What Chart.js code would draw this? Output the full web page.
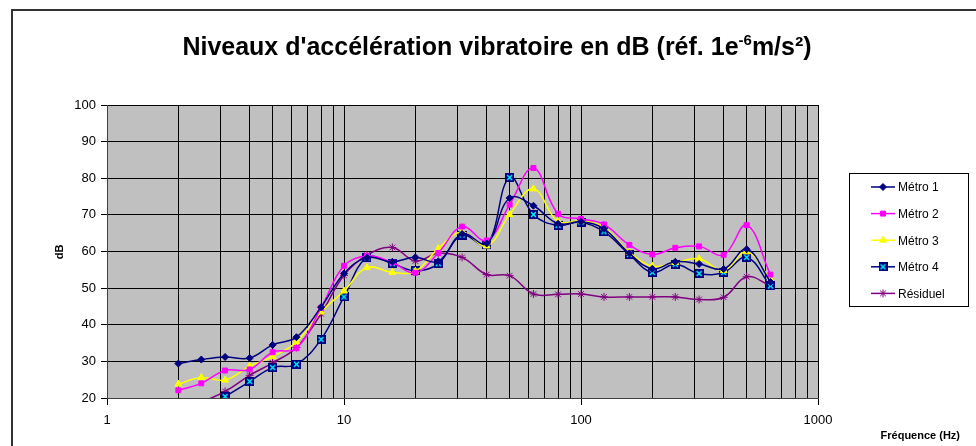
<!DOCTYPE html>
<html>
<head>
<meta charset="utf-8">
<script src="https://cdn.jsdelivr.net/npm/chart.js@4/dist/chart.umd.min.js"></script>
<style>
  html, body { margin: 0; padding: 0; background: #fff; }
  #wrap { width: 976px; height: 446px; position: relative; }
</style>
</head>
<body>
<div id="wrap"><canvas id="vibChart" width="976" height="446"></canvas></div>
<script>
// third-octave bands (Hz)
const freqs = [2, 2.5, 3.15, 4, 5, 6.3, 8, 10, 12.5, 16, 20, 25, 31.5, 40, 50, 63, 80, 100, 125, 160, 200, 250, 315, 400, 500, 630];

const metro1 = [29.4, 30.5, 31.2, 30.9, 34.5, 36.6, 44.8, 54.0, 58.3, 57.2, 58.4, 57.3, 64.8, 62.2, 74.6, 72.5, 67.6, 68.1, 66.2, 59.5, 55.3, 57.2, 56.6, 55.2, 60.6, 51.7];
const metro2 = [22.1, 24.0, 27.5, 27.8, 32.5, 33.6, 44.6, 56.1, 58.8, 57.0, 54.2, 59.6, 66.8, 63.0, 72.8, 82.8, 70.3, 68.9, 67.4, 61.8, 59.2, 61.0, 61.4, 59.1, 67.2, 53.7];
const metro3 = [23.8, 25.6, 24.9, 28.7, 31.3, 35.3, 43.5, 49.2, 55.6, 54.3, 54.6, 60.8, 65.3, 61.5, 70.1, 77.1, 68.2, 68.3, 66.6, 59.8, 56.0, 57.0, 58.0, 54.8, 59.9, 52.5];
const metro4 = [null, null, 20.4, 24.5, 28.3, 29.2, 36.0, 47.6, 58.3, 56.7, 54.7, 56.7, 64.5, 61.8, 80.2, 70.1, 67.1, 68.0, 65.4, 59.2, 54.3, 56.5, 54.0, 54.3, 58.4, 50.6];
const residuel = [17.0, 18.9, 21.8, 26.2, 29.6, 33.8, 43.0, 53.5, 59.0, 61.1, 57.4, 59.5, 58.4, 53.7, 53.4, 48.4, 48.3, 48.4, 47.6, 47.6, 47.6, 47.6, 46.9, 47.5, 53.1, 50.6];

const seriesNames = ['Métro 1', 'Métro 2', 'Métro 3', 'Métro 4', 'Résiduel'];
const xGridTicks = [1, 2, 3, 4, 5, 6, 7, 8, 9, 10, 20, 30, 40, 50, 60, 70, 80, 90, 100, 200, 300, 400, 500, 600, 700, 800, 900, 1000];
const xLabels = [1, 10, 100, 1000];

const FONT = "'Liberation Sans', Arial, sans-serif";

// navy square with a cyan cross, the Métro 4 marker
function makeBoxX() {
  const c = document.createElement('canvas');
  c.width = 9; c.height = 9;
  const g = c.getContext('2d');
  g.fillStyle = '#000080';
  g.fillRect(0, 0, 9, 9);
  g.strokeStyle = '#00ffff';
  g.lineWidth = 1.3;
  g.beginPath();
  g.moveTo(2, 2); g.lineTo(7, 7);
  g.moveTo(7, 2); g.lineTo(2, 7);
  g.stroke();
  return c;
}
const boxX = makeBoxX();

function pts(arr) {
  return freqs.map((f, i) => ({ x: f, y: arr[i] }));
}

const styles = [
  { color: '#000080', fill: '#000080', pointStyle: 'rectRot', radius: 3.5 },
  { color: '#ff00ff', fill: '#ff00ff', pointStyle: 'rect', radius: 3.5 },
  { color: '#ffff00', fill: '#ffff00', pointStyle: 'triangle', radius: 4 },
  { color: '#000080', fill: '#000080', pointStyle: boxX, radius: 4.5 },
  { color: '#800080', fill: '#800080', pointStyle: 'star', radius: 4 }
];

const allSeries = [metro1, metro2, metro3, metro4, residuel];

const datasets = allSeries.map((s, i) => ({
  label: seriesNames[i],
  data: pts(s),
  borderColor: styles[i].color,
  backgroundColor: styles[i].fill,
  pointBorderColor: styles[i].color,
  pointBackgroundColor: styles[i].fill,
  pointStyle: styles[i].pointStyle,
  pointRadius: styles[i].radius,
  pointBorderWidth: 1,
  borderWidth: 1.5,
  tension: 0.4,
  fill: false
}));

// background, frame, title, axis titles, legend
const decorPlugin = {
  id: 'decor',
  beforeDraw(chart) {
    const ctx = chart.ctx;
    const a = chart.chartArea;
    ctx.save();
    ctx.fillStyle = '#fff';
    ctx.fillRect(0, 0, chart.width, chart.height);
    ctx.fillStyle = '#c0c0c0';
    ctx.fillRect(a.left, a.top, a.right - a.left, a.bottom - a.top);
    // chart frame (left and top only visible)
    ctx.strokeStyle = '#333';
    ctx.lineWidth = 2;
    ctx.beginPath();
    ctx.moveTo(12, chart.height);
    ctx.lineTo(12, 10);
    ctx.lineTo(chart.width, 10);
    ctx.stroke();
    ctx.restore();
  },
  afterDraw(chart) {
    const ctx = chart.ctx;
    ctx.save();
    ctx.fillStyle = '#000';
    ctx.textBaseline = 'alphabetic';

    // title with superscript
    const part1 = "Niveaux d'accélération vibratoire en dB (réf. 1e";
    const sup = '-6';
    const part2 = 'm/s²)';
    const big = 'bold 25px ' + FONT;
    const small = 'bold 15px ' + FONT;
    ctx.font = big;
    const w1 = ctx.measureText(part1).width;
    const w3 = ctx.measureText(part2).width;
    ctx.font = small;
    const w2 = ctx.measureText(sup).width;
    let x = 497 - (w1 + w2 + w3) / 2;
    const yBase = 55;
    ctx.font = big;
    ctx.fillText(part1, x, yBase);
    x += w1;
    ctx.font = small;
    ctx.fillText(sup, x, yBase - 10);
    x += w2;
    ctx.font = big;
    ctx.fillText(part2, x, yBase);

    // axis titles
    ctx.font = 'bold 11px ' + FONT;
    ctx.textAlign = 'right';
    ctx.textBaseline = 'middle';
    ctx.fillText('Fréquence (Hz)', 960, 436);
    ctx.save();
    ctx.translate(60, 252);
    ctx.rotate(-Math.PI / 2);
    ctx.textAlign = 'center';
    ctx.fillText('dB', 0, 0);
    ctx.restore();

    // legend box
    const lx = 849, ly = 173, lw = 119, lh = 133;
    ctx.fillStyle = '#fff';
    ctx.fillRect(lx, ly, lw, lh);
    ctx.strokeStyle = '#000';
    ctx.lineWidth = 1;
    ctx.strokeRect(lx + 0.5, ly + 0.5, lw, lh);
    ctx.font = '12px ' + FONT;
    ctx.textAlign = 'left';
    ctx.textBaseline = 'middle';
    seriesNames.forEach((name, i) => {
      const yy = 187 + i * 26.6;
      const st = styles[i];
      ctx.strokeStyle = st.color;
      ctx.lineWidth = 1.5;
      ctx.beginPath();
      ctx.moveTo(871, yy);
      ctx.lineTo(895, yy);
      ctx.stroke();
      ctx.fillStyle = st.fill;
      ctx.strokeStyle = st.color;
      ctx.lineWidth = 1;
      if (Chart.helpers && Chart.helpers.drawPoint) {
        Chart.helpers.drawPoint(ctx, { pointStyle: st.pointStyle, radius: st.radius, rotation: 0, borderWidth: 1 }, 883, yy);
      }
      ctx.fillStyle = '#000';
      ctx.fillText(name, 898, yy + 1);
    });
    ctx.restore();
  }
};

new Chart(document.getElementById('vibChart'), {
  type: 'line',
  data: { datasets: datasets },
  options: {
    responsive: false,
    animation: false,
    layout: { padding: { left: 0, top: 105, right: 158, bottom: 0 } },
    plugins: {
      legend: { display: false },
      tooltip: { enabled: false }
    },
    scales: {
      x: {
        type: 'logarithmic',
        min: 1,
        max: 1000,
        afterFit: s => { s.height = 48; },
        afterBuildTicks: s => { s.ticks = xGridTicks.map(v => ({ value: v, major: xLabels.includes(v) })); },
        grid: {
          color: '#000',
          lineWidth: 1,
          tickLength: 7,
          tickColor: c => (c.tick && xLabels.includes(c.tick.value)) ? '#000' : 'rgba(0,0,0,0)'
        },
        border: { color: '#404040', width: 1 },
        ticks: {
          autoSkip: false,
          maxRotation: 0,
          padding: 8,
          color: '#000',
          font: { family: FONT, size: 13 },
          callback: v => xLabels.includes(v) ? String(v) : ''
        }
      },
      y: {
        min: 20,
        max: 100,
        afterFit: s => { s.width = 107; },
        grid: { color: '#000', lineWidth: 1, tickLength: 6 },
        border: { color: '#404040', width: 1 },
        ticks: {
          stepSize: 10,
          padding: 5,
          color: '#000',
          font: { family: FONT, size: 13 }
        }
      }
    }
  },
  plugins: [decorPlugin]
});
</script>
</body>
</html>
